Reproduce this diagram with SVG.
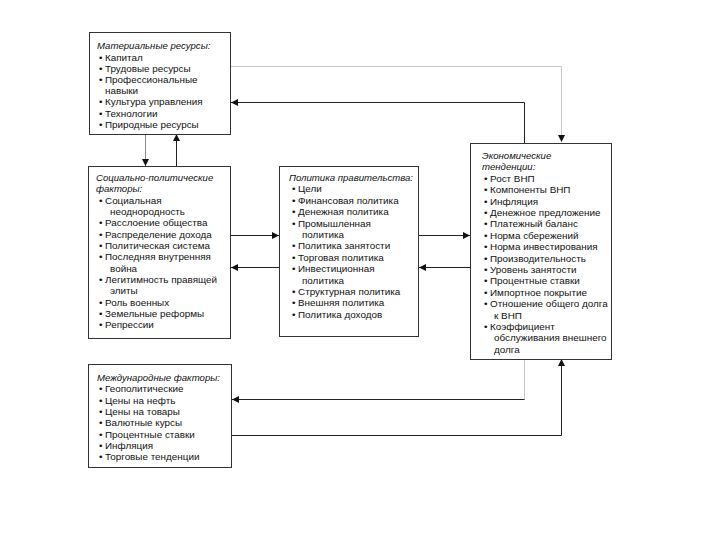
<svg xmlns="http://www.w3.org/2000/svg" width="720" height="540" viewBox="0 0 720 540">
<style>
.box{fill:#fff;stroke:#333;stroke-width:1}
text{font-family:"Liberation Sans",Arial,sans-serif;font-size:9.9px;fill:#111}
.t{font-style:italic;font-size:9.6px}
.c{fill:none;stroke:#222;stroke-width:1}
.g{fill:none;stroke:#c8c8c8;stroke-width:1}
.m{fill:none;stroke:#888;stroke-width:1}
</style>
<defs>
<marker id="a" viewBox="0 0 10 10" refX="10" refY="5" markerWidth="7" markerHeight="7" orient="auto" markerUnits="userSpaceOnUse"><path d="M0,0 L10,5 L0,10 z" fill="#111"/></marker>
</defs>
<rect width="720" height="540" fill="#fff"/>
<g id="connectors">
<polyline class="g" points="230.5,66.5 561.5,66.5 561.5,142" marker-end="url(#a)"/>
<polyline class="c" points="524.5,143 524.5,102.5 231,102.5" marker-end="url(#a)"/>
<line class="m" x1="145.5" y1="134" x2="145.5" y2="166" marker-end="url(#a)"/>
<line class="c" x1="176.5" y1="166" x2="176.5" y2="134" marker-end="url(#a)"/>
<line class="c" x1="231" y1="235.5" x2="279" y2="235.5" marker-end="url(#a)"/>
<line class="c" x1="279" y1="267.5" x2="231" y2="267.5" marker-end="url(#a)"/>
<line class="c" x1="419" y1="235.5" x2="470" y2="235.5" marker-end="url(#a)"/>
<line class="c" x1="470" y1="267.5" x2="419" y2="267.5" marker-end="url(#a)"/>
<polyline class="g" points="524.5,359 524.5,399.5 524,399.5"/>
<line class="c" x1="524.5" y1="399.5" x2="232" y2="399.5" marker-end="url(#a)"/>
<polyline class="c" points="232,435.5 561.5,435.5 561.5,359" marker-end="url(#a)"/>
</g>
<g id="n1">
<rect class="box" x="89.5" y="32.5" width="141" height="102"/>
<text class="t" x="97" y="49">Материальные ресурсы:</text>
<text x="99" y="60.5">•<tspan x="105">Капитал</tspan></text>
<text x="99" y="71.7">•<tspan x="105">Трудовые ресурсы</tspan></text>
<text x="99" y="82.9">•<tspan x="105">Профессиональные</tspan></text>
<text x="105" y="94.1">навыки</text>
<text x="99" y="105.3">•<tspan x="105">Культура управления</tspan></text>
<text x="99" y="116.5">•<tspan x="105">Технологии</tspan></text>
<text x="99" y="127.7">•<tspan x="105">Природные ресурсы</tspan></text>
</g>
<g id="n2">
<rect class="box" x="88.5" y="166.5" width="142" height="172"/>
<text class="t" x="96" y="181">Социально-политические</text>
<text class="t" x="96" y="192.3">факторы:</text>
<text x="99" y="203.7">•<tspan x="105">Социальная</tspan></text>
<text x="110" y="215">неоднородность</text>
<text x="99" y="226.4">•<tspan x="105">Расслоение общества</tspan></text>
<text x="99" y="237.7">•<tspan x="105">Распределение дохода</tspan></text>
<text x="99" y="249">•<tspan x="105">Политическая система</tspan></text>
<text x="99" y="260.4">•<tspan x="105">Последняя внутренняя</tspan></text>
<text x="110" y="271.7">война</text>
<text x="99" y="283">•<tspan x="105">Легитимность правящей</tspan></text>
<text x="110" y="294.4">элиты</text>
<text x="99" y="305.7">•<tspan x="105">Роль военных</tspan></text>
<text x="99" y="317">•<tspan x="105">Земельные реформы</tspan></text>
<text x="99" y="328.4">•<tspan x="105">Репрессии</tspan></text>
</g>
<g id="n3">
<rect class="box" x="279.5" y="166.5" width="139" height="170"/>
<text class="t" x="289" y="181">Политика правительства:</text>
<text x="292" y="192.4">•<tspan x="298">Цели</tspan></text>
<text x="292" y="203.8">•<tspan x="298">Финансовая политика</tspan></text>
<text x="292" y="215.2">•<tspan x="298">Денежная политика</tspan></text>
<text x="292" y="226.6">•<tspan x="298">Промышленная</tspan></text>
<text x="302" y="238">политика</text>
<text x="292" y="249.4">•<tspan x="298">Политика занятости</tspan></text>
<text x="292" y="260.8">•<tspan x="298">Торговая политика</tspan></text>
<text x="292" y="272.2">•<tspan x="298">Инвестиционная</tspan></text>
<text x="302" y="283.6">политика</text>
<text x="292" y="295">•<tspan x="298">Структурная политика</tspan></text>
<text x="292" y="306.4">•<tspan x="298">Внешняя политика</tspan></text>
<text x="292" y="317.8">•<tspan x="298">Политика доходов</tspan></text>
</g>
<g id="n4">
<rect class="box" x="470.5" y="143.5" width="141" height="216"/>
<text class="t" x="482" y="159">Экономические</text>
<text class="t" x="482" y="170.4">тенденции:</text>
<text x="484" y="181.8">•<tspan x="490">Рост ВНП</tspan></text>
<text x="484" y="193.2">•<tspan x="490">Компоненты ВНП</tspan></text>
<text x="484" y="204.6">•<tspan x="490">Инфляция</tspan></text>
<text x="484" y="216">•<tspan x="490">Денежное предложение</tspan></text>
<text x="484" y="227.4">•<tspan x="490">Платежный баланс</tspan></text>
<text x="484" y="238.8">•<tspan x="490">Норма сбережений</tspan></text>
<text x="484" y="250.2">•<tspan x="490">Норма инвестирования</tspan></text>
<text x="484" y="261.6">•<tspan x="490">Производительность</tspan></text>
<text x="484" y="273">•<tspan x="490">Уровень занятости</tspan></text>
<text x="484" y="284.4">•<tspan x="490">Процентные ставки</tspan></text>
<text x="484" y="295.8">•<tspan x="490">Импортное покрытие</tspan></text>
<text x="484" y="307.2">•<tspan x="490">Отношение общего долга</tspan></text>
<text x="494" y="318.6">к ВНП</text>
<text x="484" y="330">•<tspan x="490">Коэффициент</tspan></text>
<text x="494" y="341.4">обслуживания внешнего</text>
<text x="494" y="352.8">долга</text>
</g>
<g id="n5">
<rect class="box" x="88.5" y="364.5" width="143" height="103"/>
<text class="t" x="97" y="381">Международные факторы:</text>
<text x="99" y="392.3">•<tspan x="105">Геополитические</tspan></text>
<text x="99" y="403.6">•<tspan x="105">Цены на нефть</tspan></text>
<text x="99" y="414.9">•<tspan x="105">Цены на товары</tspan></text>
<text x="99" y="426.2">•<tspan x="105">Валютные курсы</tspan></text>
<text x="99" y="437.5">•<tspan x="105">Процентные ставки</tspan></text>
<text x="99" y="448.8">•<tspan x="105">Инфляция</tspan></text>
<text x="99" y="460.1">•<tspan x="105">Торговые тенденции</tspan></text>
</g>
</svg>
